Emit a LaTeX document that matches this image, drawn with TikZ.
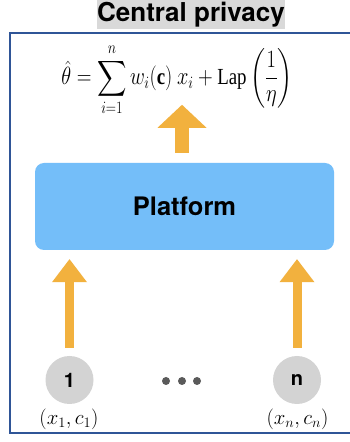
\documentclass[tikz,border=0pt]{standalone}
\usepackage{amsmath}
\usepackage{graphicx}
\usepackage{fontspec}
\setmainfont{Liberation Serif}
\newfontfamily\hel{TeX Gyre Heros}
\usetikzlibrary{arrows.meta,calc}
\definecolor{framec}{RGB}{47,85,151}
\definecolor{titlegrey}{RGB}{217,217,217}
\definecolor{platc}{RGB}{116,190,249}
\definecolor{orangec}{RGB}{242,177,62}
\definecolor{circc}{RGB}{211,211,211}
\definecolor{dotc}{RGB}{90,90,90}
\tikzset{
  titlebox/.style={fill=titlegrey, inner sep=0pt, minimum width=188pt, minimum height=29pt, font=\hel\fontsize{26}{28}\selectfont\bfseries},
  platbox/.style={fill=platc, rounded corners=9pt, minimum width=299pt, minimum height=87pt, inner sep=0pt, font=\hel\fontsize{25.5}{30}\selectfont\bfseries},
  usercirc/.style={circle, fill=circc, minimum size=48pt, inner sep=0pt, font=\hel\fontsize{20}{22}\selectfont\bfseries},
  dotn/.style={circle, fill=dotc, minimum size=8pt, inner sep=0pt},
  toparrow/.style={draw=orangec, line width=14pt, -{Triangle[width=49pt,length=23pt,line width=0pt]}},
  botarrow/.style={draw=orangec, line width=9pt, -{Triangle[width=35pt,length=23pt,line width=0pt]}},
  mathlbl/.style={inner sep=0pt, font=\fontsize{21}{24}\selectfont},
}
\begin{document}
\begin{tikzpicture}[x=1pt,y=1pt]
\clip (0,0) rectangle (350,442);
\fill[white] (0,0) rectangle (350,442);
% frame
\draw[framec, line width=2pt] (9.5,8.5) rectangle (365,408.5);
% title
\node[titlebox] (title) at (191,427.5) {Central privacy};
% formula
\node[inner sep=0pt, font=\fontsize{23}{26}\selectfont] (formula) at (177,362)
  {\scalebox{0.82}[1]{$\displaystyle \hat{\theta} = \sum_{i=1}^{n} w_i(\mathbf{c})\ x_i + \mathrm{Lap}\left(\frac{1}{\eta}\right)$}};
% platform
\node[platbox] (platform) at (184.5,235.5) {Platform};
% users
\node[usercirc] (c1) at (69.5,62) {1};
\node[usercirc] (cn) at (297,62) {n};
\node[dotn] (d1) at (166,61) {};
\node[dotn] (d2) at (182,61) {};
\node[dotn] (d3) at (197,61) {};
\node[mathlbl] (l1) at (69,22.5) {$(x_1, c_1)$};
\node[mathlbl] (ln) at (297.5,22.5) {$(x_n, c_n)$};
% arrows
\draw[toparrow] ([xshift=-2.5pt,yshift=10pt]platform.north) -- ++(0,48);
\draw[botarrow] ([yshift=8pt]c1.north) -- ([yshift=-9pt]c1 |- platform.south);
\draw[botarrow] ([yshift=8pt]cn.north) -- ([yshift=-9pt]cn |- platform.south);
\end{tikzpicture}
\end{document}
